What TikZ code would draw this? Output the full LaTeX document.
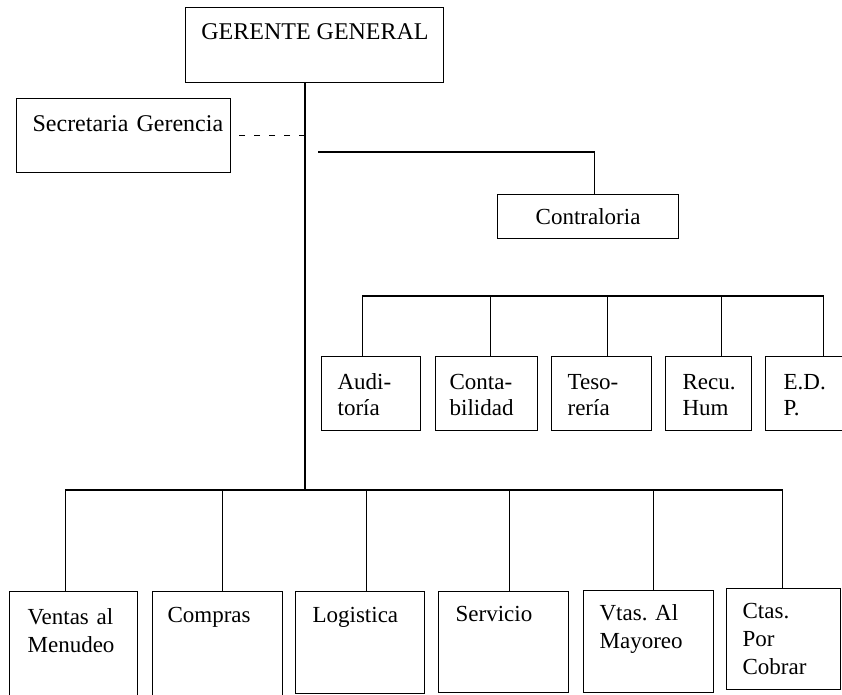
\documentclass[tikz,border=0pt]{standalone}
\usepackage{fontspec}
\setmainfont{Liberation Serif}
\frenchspacing
\begin{document}
\begin{tikzpicture}[x=1pt,y=-1pt,line width=1.2pt,
  box/.style={draw,rectangle,inner sep=0pt,anchor=north west},
  lbl/.style={inner sep=0pt,anchor=base west,align=left,text width=200pt,
              font=\fontsize{23}{28}\selectfont\frenchspacing},
  mlbl/.style={lbl,font=\fontsize{23}{26}\selectfont\frenchspacing},
  clbl/.style={inner sep=0pt,font=\fontsize{23}{28}\selectfont},
  dashline/.style={dash pattern=on 6pt off 9pt,line width=1.6pt}]
\useasboundingbox (0,0) rectangle (842,694);
\clip (0,0) rectangle (842,694);

% top level
\node[box,minimum width=258pt,minimum height=75pt] (gg) at (185,7) {};
\node[clbl,anchor=base,font=\fontsize{24}{28}\selectfont] (tgg) at (315,39) {GERENTE GENERAL};
\node[box,minimum width=214pt,minimum height=74pt] (sec) at (16,98) {};
\node[lbl,font=\fontsize{24}{28}\selectfont] (tsec) at (32,131) {Secretaria Gerencia};
\node[box,minimum width=181pt,minimum height=44pt] (cont) at (497,194) {};
\node[clbl] (tcont) at (cont.center) {Contraloria};

% middle row
\node[box,minimum width=99pt,minimum height=74pt]  (aud) at (321,356) {};
\node[box,minimum width=102pt,minimum height=74pt] (con) at (435,356) {};
\node[box,minimum width=100pt,minimum height=74pt] (tes) at (551,356) {};
\node[box,minimum width=86pt,minimum height=74pt]  (rec) at (665,356) {};
\node[box,minimum width=90pt,minimum height=74pt]  (edp) at (765,356) {};
\node[mlbl] (taud) at (337,389) {Audi-\\toría};
\node[mlbl] (tcon) at (449,389) {Conta-\\bilidad};
\node[mlbl] (ttes) at (567,389) {Teso-\\rería};
\node[mlbl] (trec) at (682,389) {Recu.\\Hum};
\node[mlbl] (tedp) at (783,389) {E.D.\\P.};

% bottom row
\node[box,minimum width=128pt,minimum height=110pt] (ven) at (9,591) {};
\node[box,minimum width=130pt,minimum height=110pt] (com) at (152,591) {};
\node[box,minimum width=129pt,minimum height=102pt] (log) at (295,591) {};
\node[box,minimum width=130pt,minimum height=101pt] (ser) at (438,591) {};
\node[box,minimum width=130pt,minimum height=102pt] (vta) at (583,590) {};
\node[box,minimum width=114pt,minimum height=101pt] (cta) at (726,588) {};
\node[lbl] (tven) at (27,624) {Ventas al\\Menudeo};
\node[lbl] (tcom) at (167,622) {Compras};
\node[lbl] (tlog) at (312,622) {Logistica};
\node[lbl] (tser) at (455,621) {Servicio};
\node[lbl] (tvta) at (599,620) {Vtas. Al\\Mayoreo};
\node[lbl] (tcta) at (742,618) {Ctas.\\Por\\Cobrar};

% connectors
\coordinate (spinetop) at (305,82);
\coordinate (busB) at (305,490);
\coordinate (busM) at (362,296);
\coordinate (cstart) at (318,152);
\draw (spinetop) -- (busB);
\draw[dashline] (busB |- sec.east) -- ([xshift=8pt]sec.east);
\draw (cstart) -| ([xshift=6pt]cont.north);

% middle bus
\draw ([xshift=-8.5pt]aud.north) |- ([xshift=13pt]edp.north |- busM) -- ([xshift=13pt]edp.north);
\draw ([xshift=4pt]con.north) -- ([xshift=4pt]con.north |- busM);
\draw ([xshift=6pt]tes.north) -- ([xshift=6pt]tes.north |- busM);
\draw ([xshift=13pt]rec.north) -- ([xshift=13pt]rec.north |- busM);

% bottom bus
\draw ([xshift=-8pt]ven.north) |- ([xshift=-1pt]cta.north |- busB) -- ([xshift=-1pt]cta.north);
\draw ([xshift=5pt]com.north) -- ([xshift=5pt]com.north |- busB);
\draw ([xshift=6.5pt]log.north) -- ([xshift=6.5pt]log.north |- busB);
\draw ([xshift=6pt]ser.north) -- ([xshift=6pt]ser.north |- busB);
\draw ([xshift=5pt]vta.north) -- ([xshift=5pt]vta.north |- busB);
\end{tikzpicture}
\end{document}
